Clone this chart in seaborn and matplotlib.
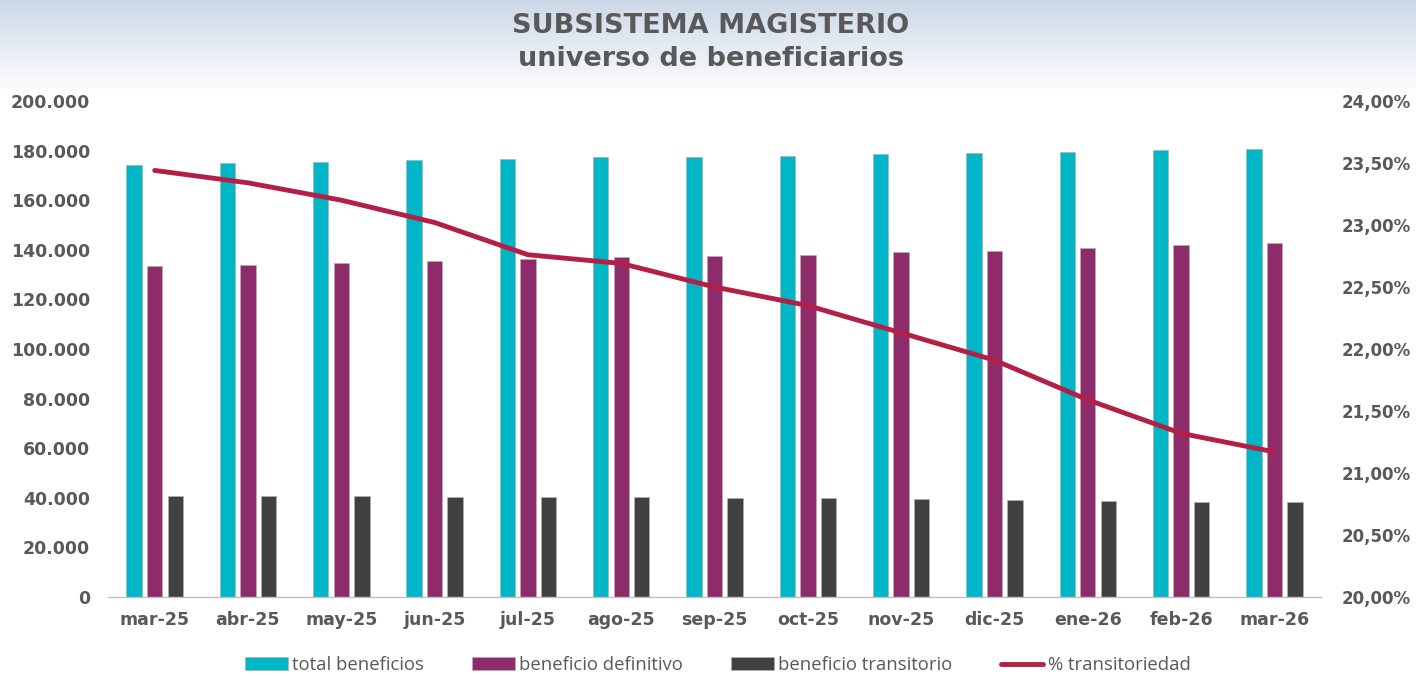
import numpy as np
import pandas as pd
import matplotlib
matplotlib.use("Agg")
import matplotlib.pyplot as plt
from matplotlib.ticker import FuncFormatter, FixedLocator
import seaborn as sns

meses = ["mar-25", "abr-25", "may-25", "jun-25", "jul-25", "ago-25", "sep-25",
         "oct-25", "nov-25", "dic-25", "ene-26", "feb-26", "mar-26"]
total_beneficios = [174200, 175000, 175400, 176200, 176600, 177400, 177400,
                    177800, 178600, 179000, 179400, 180200, 180600]
beneficio_definitivo = [133500, 133900, 134700, 135500, 136300, 137100, 137500,
                        137900, 139100, 139500, 140700, 141900, 142700]
beneficio_transitorio = [40700, 40700, 40700, 40300, 40300, 40300, 39900,
                         39900, 39500, 39100, 38700, 38300, 38300]
pct_transitoriedad = [0.2344, 0.2334, 0.2320, 0.2302, 0.2276, 0.2269, 0.2250,
                      0.2235, 0.2213, 0.2191, 0.2159, 0.2132, 0.2117]
series = ["total beneficios", "beneficio definitivo", "beneficio transitorio"]
linea_label = "% transitoriedad"
titulo = "SUBSISTEMA MAGISTERIO\nuniverso de beneficiarios"

colores = ["#00B6C7", "#8E2C6B", "#404040"]
color_linea = "#B51F45"
gris = "#595959"

sns.set_theme(style="white")
plt.rcParams["font.family"] = ["DejaVu Sans"]

df = pd.DataFrame({
    "mes": meses * 3,
    "serie": [series[0]] * len(meses) + [series[1]] * len(meses) + [series[2]] * len(meses),
    "valor": total_beneficios + beneficio_definitivo + beneficio_transitorio,
})

fig = plt.figure(figsize=(14.16, 6.76), dpi=100)

# background gradient
bg = fig.add_axes([0, 0, 1, 1], zorder=-10)
h = 400
frac = np.linspace(0, 1, h)[:, None]  # 0 top -> 1 bottom
top = np.array([0.80, 0.85, 0.91])
t = np.clip(frac / 0.14, 0, 1)
img = top[None, None, :] * (1 - t[..., None]) + np.ones(3)[None, None, :] * t[..., None]
img = np.repeat(img, 2, axis=1)
bg.imshow(img, aspect="auto", extent=[0, 1, 0, 1])
bg.axis("off")

ax = fig.add_axes([0.0763, 0.1169, 0.8566, 0.7337])
ax.patch.set_alpha(0)
sns.barplot(data=df, x="mes", y="valor", hue="serie", order=meses, hue_order=series,
            palette=colores, width=0.66, gap=0.25, ax=ax, saturation=1,
            edgecolor="#b0b0b0", linewidth=0.5)
leg = ax.get_legend()
handles = list(leg.legend_handles)
labels = [tx.get_text() for tx in leg.get_texts()]
leg.remove()

ax.set_xlim(-0.5, len(meses) - 0.5)
ax.set_ylim(0, 200000)
ax.yaxis.set_major_locator(FixedLocator(np.arange(0, 200001, 20000)))
ax.yaxis.set_major_formatter(FuncFormatter(lambda v, p: f"{int(v):,}".replace(",", ".")))
ax.set_xlabel("")
ax.set_ylabel("")
for s in ["top", "right", "left"]:
    ax.spines[s].set_visible(False)
ax.spines["bottom"].set_color("#bfbfbf")
ax.spines["bottom"].set_linewidth(1.0)
ax.tick_params(axis="x", which="major", length=0, pad=10, labelsize=12.5, labelcolor=gris)
ax.set_xticks(np.arange(-0.5, len(meses), 1.0), minor=True)
ax.tick_params(axis="x", which="minor", length=4.5, width=1, color="#bfbfbf", direction="out")
ax.tick_params(axis="y", length=0, pad=13, labelsize=12.5, labelcolor=gris)
for lab in ax.get_xticklabels() + ax.get_yticklabels():
    lab.set_fontweight("bold")

ax2 = ax.twinx()
ax2.patch.set_alpha(0)
sns.lineplot(x=np.arange(len(meses)), y=pct_transitoriedad, ax=ax2, color=color_linea,
             linewidth=3.5, label=linea_label)
leg2 = ax2.get_legend()
handles += list(leg2.legend_handles)
labels += [tx.get_text() for tx in leg2.get_texts()]
leg2.remove()
ax2.set_ylim(0.20, 0.24)
ax2.yaxis.set_major_locator(FixedLocator(np.arange(0.20, 0.24001, 0.005)))
ax2.yaxis.set_major_formatter(FuncFormatter(lambda v, p: f"{v*100:.2f}%".replace(".", ",")))
for s in ["top", "right", "left", "bottom"]:
    ax2.spines[s].set_visible(False)
ax2.tick_params(axis="y", length=0, pad=15, labelsize=12, labelcolor=gris)
for lab in ax2.get_yticklabels():
    lab.set_fontweight("bold")
ax2.set_ylabel("")

fig.text(0.502, 0.937, titulo, ha="center", va="center", fontsize=19.5,
         fontweight="bold", color=gris, linespacing=1.38)

fig.legend(handles, labels, loc="center", bbox_to_anchor=(0.507, 0.016), ncol=4,
           frameon=False, labelcolor=gris, handlelength=2.3,
           handleheight=0.7, columnspacing=2.6, handletextpad=0.25,
           prop={"family": ["Open Sans", "DejaVu Sans"], "size": 13.3})

fig.savefig("out.png", dpi=100)
